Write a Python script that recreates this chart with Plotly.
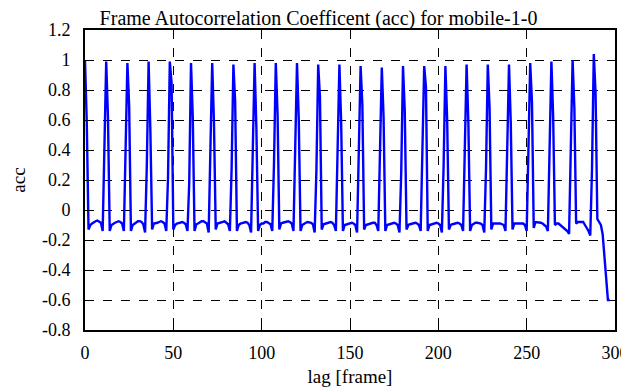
import plotly.graph_objects as go

title_text = "Frame Autocorrelation Coefficent (acc) for mobile-1-0"
x_label = "lag [frame]"
y_label = "acc"

x_tick_vals = [0, 50, 100, 150, 200, 250, 300]
x_tick_text = ["0", "50", "100", "150", "200", "250", "300"]
y_tick_vals = [1.2, 1.0, 0.8, 0.6, 0.4, 0.2, 0.0, -0.2, -0.4, -0.6, -0.8]
y_tick_text = ["1.2", "1", "0.8", "0.6", "0.4", "0.2", "0", "-0.2", "-0.4", "-0.6", "-0.8"]

# autocorrelation coefficient for lags 0..297
acc = [
    1.00,
    0.58, -0.13, -0.10, -0.09, -0.08, -0.075, -0.07, -0.075, -0.085, -0.14, 0.38,
    0.99,
    0.62, -0.14, -0.10, -0.09, -0.085, -0.08, -0.075, -0.08, -0.09, -0.14, 0.41,
    0.98,
    0.69, -0.14, -0.10, -0.09, -0.08, -0.075, -0.075, -0.08, -0.095, -0.15, 0.30,
    0.99,
    0.53, -0.13, -0.09, -0.09, -0.085, -0.08, -0.075, -0.08, -0.09, -0.14, 0.22,
    0.99,
    0.85, -0.13, -0.10, -0.09, -0.085, -0.08, -0.08, -0.085, -0.095, -0.14, 0.18,
    0.98,
    0.62, -0.14, -0.095, -0.09, -0.08, -0.075, -0.075, -0.08, -0.09, -0.15, 0.36,
    0.98,
    0.58, -0.13, -0.09, -0.085, -0.08, -0.08, -0.075, -0.085, -0.095, -0.14, 0.28,
    0.97,
    0.72, -0.14, -0.10, -0.09, -0.085, -0.08, -0.08, -0.085, -0.10, -0.15, 0.45,
    0.98,
    0.55, -0.14, -0.10, -0.09, -0.09, -0.08, -0.08, -0.085, -0.095, -0.14, 0.32,
    0.98,
    0.64, -0.13, -0.09, -0.085, -0.08, -0.075, -0.075, -0.08, -0.09, -0.14, 0.40,
    0.98,
    0.60, -0.14, -0.10, -0.09, -0.085, -0.08, -0.08, -0.085, -0.095, -0.15, 0.27,
    0.97,
    0.75, -0.13, -0.095, -0.09, -0.085, -0.08, -0.08, -0.085, -0.10, -0.14, 0.40,
    0.97,
    0.58, -0.14, -0.10, -0.095, -0.09, -0.085, -0.085, -0.09, -0.10, -0.15, 0.33,
    0.96,
    0.70, -0.13, -0.10, -0.095, -0.09, -0.085, -0.085, -0.085, -0.10, -0.14, 0.42,
    0.95,
    0.62, -0.14, -0.10, -0.095, -0.09, -0.09, -0.085, -0.09, -0.10, -0.15, 0.25,
    0.96,
    0.66, -0.13, -0.10, -0.095, -0.09, -0.085, -0.085, -0.09, -0.10, -0.14, 0.38,
    0.96,
    0.82, -0.14, -0.10, -0.095, -0.09, -0.085, -0.085, -0.09, -0.10, -0.15, 0.30,
    0.96,
    0.60, -0.13, -0.10, -0.095, -0.09, -0.085, -0.085, -0.09, -0.10, -0.14, 0.42,
    0.97,
    0.58, -0.14, -0.10, -0.09, -0.085, -0.085, -0.085, -0.09, -0.10, -0.15, 0.28,
    0.97,
    0.68, -0.13, -0.09, -0.09, -0.085, -0.085, -0.09, -0.095, -0.10, -0.14, 0.35,
    0.97,
    0.58, -0.13, -0.09, -0.09, -0.085, -0.085, -0.09, -0.09, -0.10, -0.14, 0.40,
    0.98,
    0.72, -0.12, -0.08, -0.08, -0.08, -0.085, -0.09, -0.10, -0.11, -0.14, 0.35,
    0.99,
    0.62, -0.10, -0.09, -0.09, -0.10, -0.11, -0.12, -0.13, -0.14, -0.16, 0.40,
    1.00,
    0.68, -0.09, -0.08, -0.08, -0.075, -0.08, -0.10, -0.12, -0.14, -0.17, 0.28,
    1.04,
    0.78, -0.06, -0.08, -0.10, -0.16, -0.30, -0.45, -0.60, -0.60,
]
lags = list(range(len(acc)))

fig = go.Figure()
fig.add_trace(go.Scatter(
    x=lags, y=acc, mode="lines",
    line=dict(color="#0000ff", width=2.4),
    showlegend=False,
))

font_family = "Liberation Serif"
axis_common = dict(
    showline=True, linecolor="black", linewidth=2, mirror="allticks",
    ticks="inside", ticklen=6, tickcolor="black", tickwidth=1,
    showgrid=True, gridcolor="black", gridwidth=1, griddash="dash",
    zeroline=False, automargin=False, ticklabeloverflow="allow",
    tickfont=dict(family=font_family, size=18, color="black"),
)

# the page places the figure 8px from the top-left corner of the window
fig.update_layout(
    width=621, height=379,
    margin=dict(l=77, r=14, t=22, b=57),
    paper_bgcolor="white", plot_bgcolor="white",
    font=dict(family=font_family, color="black"),
    title=dict(text=title_text, x=0.5, xanchor="center", y=0.992, yanchor="top",
               font=dict(family=font_family, size=20, color="black")),
    xaxis=dict(range=[0, 300], tickvals=x_tick_vals, ticktext=x_tick_text,
               ticklabelstandoff=5,
               title=dict(text=x_label, font=dict(family=font_family, size=19, color="black"), standoff=10),
               **axis_common),
    yaxis=dict(range=[-0.8, 1.2], tickvals=y_tick_vals, ticktext=y_tick_text,
               ticklabelstandoff=9,
               title=dict(text=y_label, font=dict(family=font_family, size=19, color="black"), standoff=34),
               **axis_common),
)

fig.write_html("out.html")
